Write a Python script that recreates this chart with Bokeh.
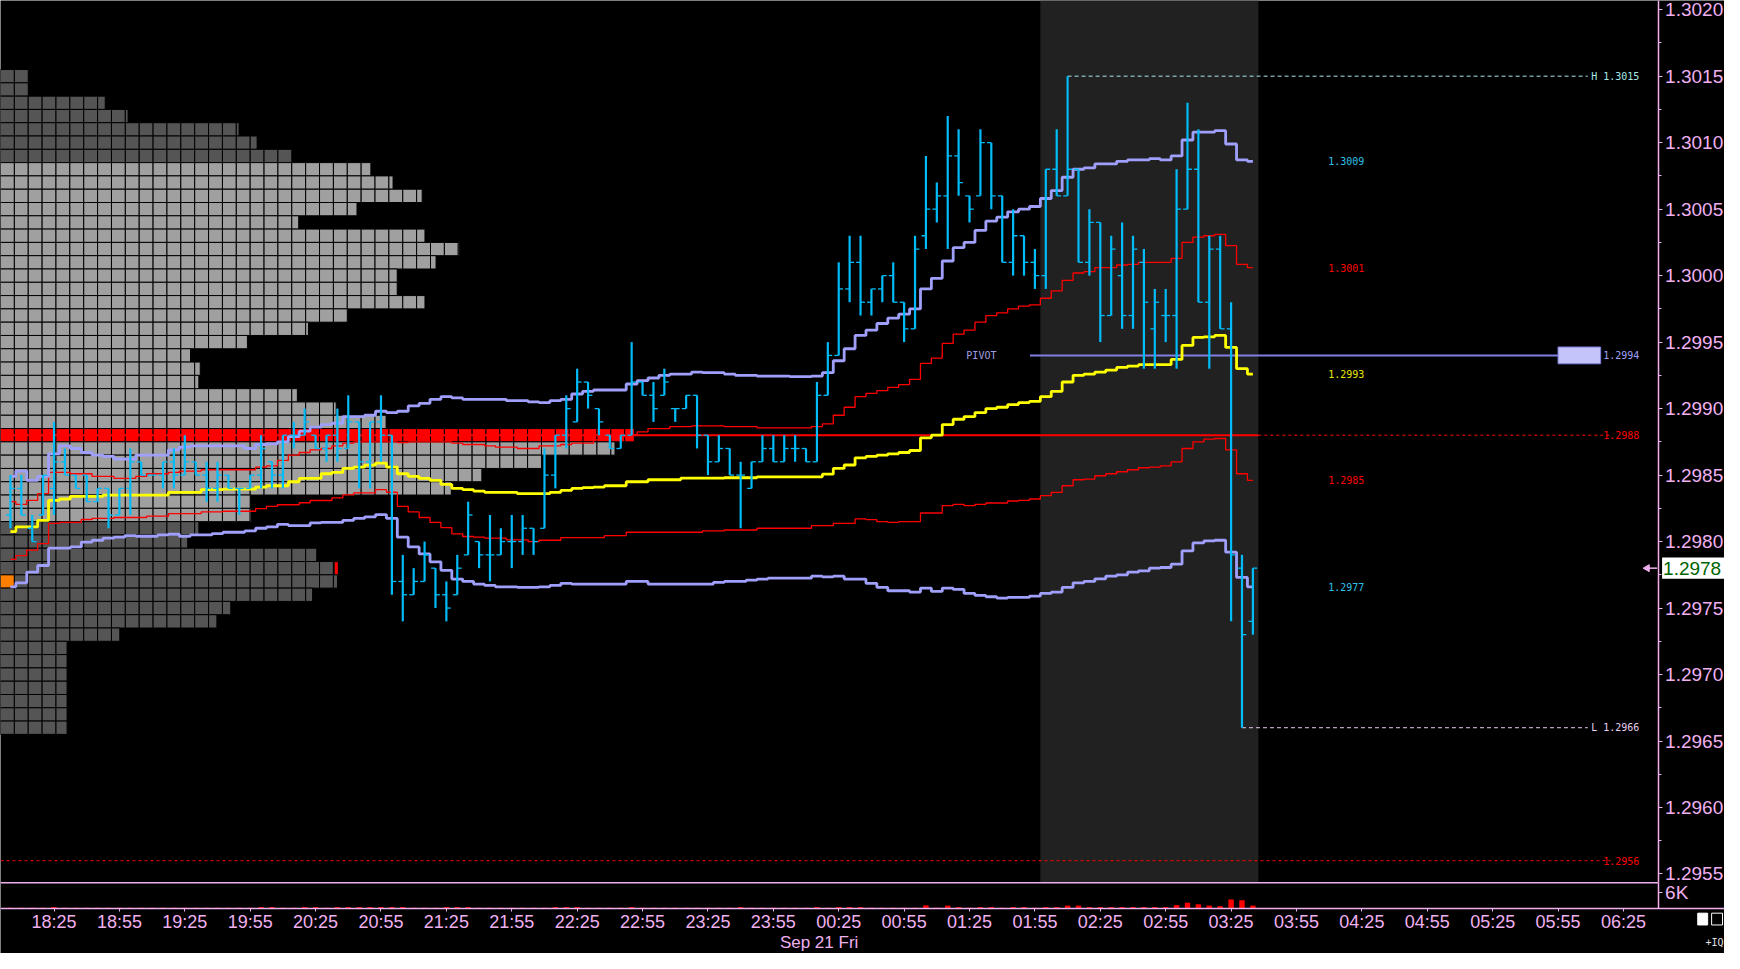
from math import pi
from bokeh.plotting import figure
from bokeh.models import (Range1d, LinearAxis, FixedTicker, SingleIntervalTicker,
                          PrintfTickFormatter, BoxAnnotation)
from bokeh.core.properties import value
from bokeh.embed import file_html
from bokeh.resources import INLINE

# prices are kept in pips above BASE
BASE = 1.29
PIP = 0.0001

# 5 minute bars, x is minutes after 18:00 (Sep 20)
FIRST_BAR = 5
BAR_MINUTES = 5

OPEN = [82, 84, 81, 82, 84, 86, 85, 85, 83, 84, 82, 84, 86, 85, 85, 86, 85, 86, 85, 84,
        85, 84, 84, 85, 86, 85, 88, 88, 88, 87, 88, 87, 89, 86, 89, 88, 77, 76, 77, 78,
        76, 76, 79, 80, 79, 79, 80, 80, 81, 81, 85, 88, 89, 92, 90, 88, 87, 88, 92, 91,
        91, 90, 90, 91, 88, 86, 87, 85, 84, 86, 87, 86, 87, 87, 86, 91, 94, 99, 101, 98,
        99, 100, 98, 96, 103, 105, 106, 109, 106, 106, 110, 106, 101, 103, 101, 100, 108, 106, 108, 101,
        104, 97, 100, 97, 101, 96, 97, 97, 105, 108, 98, 102, 96, 78, 74]
HIGH = [85, 85, 82, 85, 89, 87, 85, 85, 84, 84, 84, 87, 86, 85, 86, 87, 88, 86, 86, 86,
        85, 84, 85, 88, 86, 88, 89, 90, 88, 88, 90, 91, 89, 89, 91, 88, 79, 78, 80, 78,
        77, 79, 83, 80, 82, 81, 82, 82, 81, 87, 88, 91, 93, 92, 90, 88, 88, 95, 92, 92,
        93, 90, 91, 91, 88, 88, 87, 86, 86, 88, 88, 88, 88, 87, 92, 95, 101, 103, 103, 99,
        100, 101, 98, 103, 109, 107, 112, 111, 106, 111, 110, 106, 105, 103, 102, 108, 111, 115, 108, 105,
        104, 103, 104, 103, 102, 99, 99, 108, 113, 111, 103, 103, 98, 79, 78]
LOW = [81, 82, 80, 82, 82, 85, 84, 83, 83, 81, 82, 82, 85, 85, 84, 84, 85, 85, 83, 83,
       84, 82, 84, 84, 84, 84, 87, 88, 87, 86, 86, 87, 84, 84, 86, 76, 74, 76, 77, 75,
       74, 76, 79, 78, 77, 79, 78, 79, 79, 81, 84, 87, 89, 90, 88, 87, 87, 88, 91, 89,
       91, 89, 90, 87, 85, 86, 85, 81, 84, 86, 86, 86, 86, 86, 86, 91, 94, 98, 97, 97,
       98, 98, 95, 96, 102, 104, 102, 106, 104, 106, 105, 101, 100, 100, 99, 99, 106, 106, 101, 100,
       95, 97, 96, 96, 93, 93, 95, 93, 105, 98, 93, 96, 74, 66, 73]
CLOSE = [84, 82, 80, 85, 86, 85, 84, 83, 84, 82, 84, 86, 85, 85, 86, 85, 86, 85, 84, 85,
         84, 84, 85, 87, 85, 88, 88, 89, 87, 88, 87, 89, 86, 89, 88, 77, 76, 77, 79, 76,
         75, 78, 82, 79, 79, 80, 80, 81, 80, 85, 88, 90, 92, 91, 89, 87, 88, 92, 91, 90,
         92, 90, 91, 88, 86, 87, 85, 85, 86, 87, 86, 87, 87, 86, 91, 94, 99, 101, 98, 99,
         100, 98, 96, 102, 105, 106, 109, 107, 105, 110, 106, 101, 103, 101, 100, 108, 106, 108, 101, 104,
         97, 102, 97, 102, 98, 98, 97, 105, 108, 98, 102, 96, 79, 73, 78]
VOLUME_K = [0.2, 0.2, 0.2, 0.2, 0.45, 0.2, 0.2, 0.2, 0.2, 0.2, 0.2, 0.2, 0.2, 0.2, 0.2, 0.2, 0.2, 0.2, 0.2, 0.2,
            0.2, 0.2, 0.2, 0.45, 0.45, 0.2, 0.2, 0.45, 0.45, 0.2, 0.45, 0.45, 0.45, 0.45, 0.45, 0.45, 0.45, 0.2, 0.2, 0.2,
            0.45, 0.45, 0.45, 0.2, 0.2, 0.2, 0.2, 0.2, 0.2, 0.2, 0.45, 0.45, 0.45, 0.2, 0.2, 0.2, 0.2, 0.45, 0.2, 0.2,
            0.2, 0.2, 0.2, 0.2, 0.2, 0.2, 0.2, 0.45, 0.2, 0.2, 0.2, 0.2, 0.2, 0.2, 0.45, 0.2, 0.45, 0.45, 0.45, 0.2,
            0.2, 0.2, 0.2, 0.2, 1.1, 0.2, 1.0, 0.45, 0.2, 0.45, 0.45, 0.2, 0.45, 0.45, 0.2, 0.45, 0.45, 1.0, 1.0, 0.45,
            0.45, 0.45, 0.45, 0.45, 0.45, 0.45, 0.45, 1.2, 2.1, 1.5, 1.0, 0.8, 3.3, 3.0, 1.0]

# session vwap and its two deviation bands
VWAP = [80.75, 81.1, 81.1, 81.6, 83.1, 83.2, 83.4, 83.4, 83.4, 83.5, 83.5, 83.5, 83.5, 83.5, 83.5, 83.7, 83.7, 83.7, 83.9, 83.9,
        83.95, 83.95, 83.95, 84.1, 84.2, 84.2, 84.5, 84.75, 84.75, 85.1, 85.2, 85.5, 85.6, 85.75, 85.9, 85.6, 85.1, 84.9, 84.75, 84.6,
        84.3, 84.0, 83.9, 83.8, 83.7, 83.7, 83.7, 83.6, 83.6, 83.6, 83.7, 83.85, 84.0, 84.05, 84.1, 84.2, 84.2, 84.5, 84.5, 84.65,
        84.65, 84.65, 84.77, 84.77, 84.77, 84.77, 84.8, 84.8, 84.8, 84.87, 84.87, 84.87, 84.87, 84.87, 84.87, 85.07, 85.5, 85.76, 86.3, 86.4,
        86.5, 86.6, 86.7, 86.85, 87.8, 88.0, 88.8, 89.2, 89.4, 89.7, 90.0, 90.1, 90.3, 90.45, 90.55, 90.9, 91.3, 92.0, 92.5, 92.6,
        92.75, 92.9, 93.1, 93.2, 93.3, 93.3, 93.3, 93.7, 94.75, 95.35, 95.4, 95.5, 94.6, 93.0, 92.6]
BAND1_UP = [83.0, 82.8, 83.1, 83.6, 85.2, 85.2, 85.1, 85.1, 84.9, 84.9, 84.75, 84.75, 84.9, 85.1, 85.1, 85.2, 85.3, 85.3, 85.4, 85.4,
            85.4, 85.4, 85.4, 85.6, 85.7, 86.1, 86.5, 86.7, 86.9, 87.0, 87.2, 87.4, 87.5, 87.5, 87.5, 87.5, 87.45, 87.5, 87.5, 87.5,
            87.5, 87.4, 87.3, 87.3, 87.2, 87.1, 87.1, 87.0, 87.0, 87.2, 87.2, 87.3, 87.4, 87.4, 87.65, 87.9, 87.9, 88.0, 88.25, 88.5,
            88.5, 88.65, 88.65, 88.7, 88.7, 88.7, 88.65, 88.65, 88.65, 88.55, 88.55, 88.55, 88.55, 88.55, 88.65, 88.85, 89.5, 90.1, 90.9, 91.15,
            91.35, 91.6, 91.8, 92.2, 93.4, 93.8, 94.9, 95.6, 95.9, 96.5, 97.0, 97.2, 97.5, 97.7, 97.8, 98.3, 98.85, 99.65, 100.2, 100.3,
            100.6, 100.6, 100.8, 100.85, 101.0, 101.0, 101.0, 101.3, 102.5, 102.9, 103.0, 103.1, 102.25, 100.85, 100.6]
BAND1_DN = [78.66, 78.95, 79.35, 79.84, 81.37, 81.44, 81.44, 81.66, 81.74, 81.74, 81.81, 81.81, 81.81, 81.91, 81.91, 82.1, 82.1, 82.1, 82.23, 82.23,
            82.28, 82.28, 82.28, 82.48, 82.65, 82.77, 82.77, 82.92, 83.09, 83.09, 83.29, 83.51, 83.66, 83.66, 83.9, 83.71, 82.65, 82.23, 81.81, 81.44,
            81.05, 80.58, 80.38, 80.33, 80.26, 80.26, 80.13, 80.13, 80.0, 80.1, 80.1, 80.3, 80.3, 80.3, 80.3, 80.45, 80.45, 80.7, 80.7, 80.7,
            80.7, 80.7, 80.7, 80.7, 80.8, 80.8, 80.87, 80.87, 80.87, 81.0, 81.0, 81.0, 81.0, 81.0, 81.2, 81.2, 81.37, 81.37, 81.7, 81.65,
            81.5, 81.45, 81.5, 81.5, 82.15, 82.15, 82.7, 82.8, 82.7, 82.8, 82.9, 82.9, 83.05, 83.1, 83.2, 83.45, 83.7, 84.2, 84.65, 84.7,
            84.95, 85.1, 85.25, 85.4, 85.55, 85.6, 85.7, 86.0, 87.0, 87.5, 87.7, 87.75, 86.9, 85.1, 84.6]
BAND2_UP = [84.9, 85.3, 84.6, 84.9, 86.6, 87.2, 87.0, 86.7, 86.5, 86.4, 86.2, 86.2, 86.5, 86.5, 86.5, 86.9, 87.1, 87.2, 87.2, 87.2,
            87.2, 87.2, 87.0, 87.3, 87.35, 87.5, 87.9, 88.3, 88.6, 88.8, 88.9, 89.4, 89.4, 89.5, 89.8, 89.7, 89.8, 90.2, 90.4, 90.7,
            90.9, 90.8, 90.7, 90.7, 90.7, 90.7, 90.6, 90.6, 90.5, 90.45, 90.6, 90.7, 91.1, 91.3, 91.4, 91.4, 91.4, 91.85, 92.1, 92.3,
            92.5, 92.6, 92.6, 92.75, 92.7, 92.7, 92.6, 92.5, 92.5, 92.45, 92.45, 92.45, 92.4, 92.4, 92.45, 92.7, 93.6, 94.5, 95.5, 95.9,
            96.4, 96.8, 97.1, 97.5, 99.0, 99.8, 101.1, 102.1, 102.5, 103.4, 104.1, 104.4, 104.8, 105.0, 105.2, 105.8, 106.4, 107.4, 108.0, 108.1,
            108.4, 108.4, 108.6, 108.7, 108.7, 108.8, 108.7, 109.0, 110.2, 110.8, 110.8, 110.9, 109.9, 108.7, 108.6]
BAND2_DN = [76.6, 76.9, 77.7, 78.2, 79.5, 79.5, 79.6, 79.96, 80.1, 80.26, 80.33, 80.45, 80.4, 80.4, 80.5, 80.55, 80.4, 80.5, 80.5, 80.6,
            80.7, 80.7, 80.8, 81.0, 81.1, 81.3, 81.2, 81.2, 81.4, 81.44, 81.44, 81.6, 81.74, 81.86, 82.03, 81.74, 80.33, 79.6, 79.07, 78.48,
            77.84, 77.18, 77.0, 76.8, 76.7, 76.6, 76.6, 76.56, 76.56, 76.6, 76.7, 76.86, 76.8, 76.8, 76.8, 76.8, 76.8, 77.0, 77.0, 76.8,
            76.8, 76.8, 76.8, 76.8, 76.8, 76.93, 77.0, 77.0, 77.1, 77.18, 77.25, 77.25, 77.25, 77.25, 77.4, 77.35, 77.4, 77.18, 77.18, 76.86,
            76.56, 76.3, 76.3, 76.2, 76.5, 76.25, 76.5, 76.4, 76.1, 75.95, 75.85, 75.75, 75.8, 75.8, 75.9, 76.1, 76.2, 76.55, 76.9, 77.0,
            77.2, 77.4, 77.5, 77.7, 77.8, 78.0, 78.05, 78.3, 79.3, 79.9, 80.05, 80.1, 79.2, 77.3, 76.6]

# volume profile: cells per price row, from PROFILE_TOP downwards
PROFILE_TOP = 115
PROFILE_CELLS = [2, 2, 7.55, 9.2, 17.2, 18.5, 21.0, 26.7, 28.3, 30.4, 25.7, 21.5, 30.6, 33.1, 31.4, 28.6, 28.6,
                 30.6, 25.0, 22.2, 17.8, 13.7, 14.4, 14.3, 21.4, 24.2, 27.8, 45.7, 44.3, 39.0, 34.7, 32.5, 18.0,
                 18.1, 14.3, 13.5, 22.8, 24.1, 24.3, 22.5, 16.6, 15.6, 8.6, 4.8, 4.8, 4.8, 4.8, 4.8, 4.8, 4.8]
VALUE_AREA = (82, 108)
POC = 88
PROFILE_OPEN = 77

PIVOT = 1.2994
SUPPORT = 1.2956
SESSION_BARS = (95, 114)

TIME_LABELS = ["18:25", "18:55", "19:25", "19:55", "20:25", "20:55", "21:25", "21:55", "22:25",
               "22:55", "23:25", "23:55", "00:25", "00:55", "01:25", "01:55", "02:25", "02:55",
               "03:25", "03:55", "04:25", "04:55", "05:25", "05:55", "06:25"]
FIRST_TICK = 25
DATE_LABEL = "Sep 21 Fri"
DATE_AT = 376
VOLUME_TICK = 6

PINK = "#f0b0f0"
CYAN = "#00bcf8"
LAV = "#a0a0fc"
YELLOW = "#ffff00"
RED = "#ff0000"
LIGHT = "#a0a0a0"
DARK = "#555555"
AXIS_FONT = "Liberation Sans"
SMALL_FONT = "DejaVu Sans Mono"

# screen layout of the original, in its pixels
X_START = 0.45          # minutes at the left edge
PX_PER_MIN = 2.2
PX_PER_PIP = 13.52
PRICE_TOP = 1.3020692   # price at the top edge
PX_PER_K = 2.7
CELL = 14 / PX_PER_MIN
TEXT_RIGHT = 752.3


def px(v):
    return BASE + v * PIP


def ref_x(col):
    return X_START + col / PX_PER_MIN


def ref_y(row):
    return PRICE_TOP - row * PIP / PX_PER_PIP


def style_axis(axis, size="19px"):
    axis.axis_line_color = PINK
    axis.axis_line_width = 1.5
    axis.major_tick_line_color = PINK
    axis.minor_tick_line_color = PINK
    axis.major_tick_in = 0
    axis.minor_tick_in = 0
    axis.major_tick_out = 4
    axis.minor_tick_out = 3
    axis.major_label_text_color = PINK
    axis.major_label_text_font = AXIS_FONT
    axis.major_label_text_font_size = size
    axis.major_label_standoff = 3


bars_x = [FIRST_BAR + BAR_MINUTES * i for i in range(len(CLOSE))]
axis_x = ref_x(1673)
pane_bottom = ref_y(897)
half = BAR_MINUTES / 2

p = figure(width=1724, height=953, x_range=Range1d(ref_x(0), ref_x(1740)),
           y_range=Range1d(ref_y(969), ref_y(0)), x_axis_type=None, y_axis_type=None,
           toolbar_location=None, output_backend="svg", min_border=0,
           background_fill_color="black", border_fill_color="black", outline_line_color=None)
p.extra_y_ranges = {"vol": Range1d(-(969 - 923) / PX_PER_K, 923 / PX_PER_K)}

yaxis = LinearAxis(ticker=SingleIntervalTicker(interval=0.0005, num_minor_ticks=2),
                   formatter=PrintfTickFormatter(format="%.4f"),
                   fixed_location=axis_x, bounds=(pane_bottom, ref_y(0)))
style_axis(yaxis)
p.add_layout(yaxis, "right")

vaxis = LinearAxis(y_range_name="vol", ticker=FixedTicker(ticks=[VOLUME_TICK]),
                   major_label_overrides={VOLUME_TICK: f"{VOLUME_TICK}K"},
                   fixed_location=axis_x, bounds=(0, (923 - 897) / PX_PER_K))
style_axis(vaxis)
p.add_layout(vaxis, "right")

time_ticks = [FIRST_TICK + 30 * k for k in range(len(TIME_LABELS))]
taxis = LinearAxis(ticker=FixedTicker(ticks=time_ticks),
                   major_label_overrides=dict(zip(time_ticks, TIME_LABELS)),
                   fixed_location=ref_y(923))
style_axis(taxis, "18px")
taxis.major_tick_out = 3
taxis.major_label_standoff = 1
p.add_layout(taxis, "below")

p.segment(x0=[ref_x(0)], y0=[pane_bottom], x1=[axis_x], y1=[pane_bottom], line_color=PINK, line_width=1.5)
p.text(x=[DATE_AT], y=[ref_y(958)], text=[DATE_LABEL], text_color=PINK, text_align="center",
       text_baseline="middle", text_font=value(AXIS_FONT), text_font_size="17px")

# highlighted session
p.add_layout(BoxAnnotation(left=bars_x[SESSION_BARS[0]] - half, right=bars_x[SESSION_BARS[1]] + half,
                           bottom=pane_bottom, fill_color="#212121", fill_alpha=1,
                           line_color=None, level="underlay"))

# profile cells
cx, cy, cw, cc = [], [], [], []
row_end = {}
for row, cells in enumerate(PROFILE_CELLS):
    tick = PROFILE_TOP - row
    if tick == POC:
        colour = RED
    elif VALUE_AREA[0] <= tick <= VALUE_AREA[1]:
        colour = LIGHT
    else:
        colour = DARK
    whole = int(cells)
    widths = [1.0] * whole
    if cells - whole > 0.05:
        widths.append(cells - whole)
    left = X_START
    for k, w in enumerate(widths):
        cx.append(left + w * CELL / 2)
        cw.append(w * CELL)
        cy.append(px(tick))
        cc.append("#ff8000" if (tick == PROFILE_OPEN and k == 0) else colour)
        left += w * CELL
    row_end[tick] = left
p.rect(x=cx, y=cy, width=cw, height=PIP, fill_color=cc, line_color="black", line_width=1)
mark_left = row_end[CLOSE[-1]]
p.quad(left=[mark_left], right=[mark_left + 1.4], bottom=[px(CLOSE[-1] - 0.45)],
       top=[px(CLOSE[-1] + 0.45)], fill_color=RED, line_color=None)

# horizontal levels
hi_i = HIGH.index(max(HIGH))
lo_i = LOW.index(min(LOW))
line_end = ref_x(1602)
dash_end = ref_x(1625)
p.segment(x0=[bars_x[hi_i]], y0=[px(HIGH[hi_i])], x1=[line_end], y1=[px(HIGH[hi_i])],
          line_color="#a8e8e8", line_width=1, line_dash="4 3")
p.segment(x0=[bars_x[lo_i]], y0=[px(LOW[lo_i])], x1=[line_end], y1=[px(LOW[lo_i])],
          line_color="#e8c8f0", line_width=1, line_dash="4 3")
p.segment(x0=[X_START], y0=[px(POC)], x1=[bars_x[-1] + half], y1=[px(POC)],
          line_color=RED, line_width=2)
p.segment(x0=[bars_x[-1] + half], y0=[px(POC)], x1=[dash_end], y1=[px(POC)],
          line_color=RED, line_width=1, line_dash="3 3")
p.segment(x0=[X_START], y0=[SUPPORT], x1=[dash_end], y1=[SUPPORT],
          line_color=RED, line_width=1, line_dash="3 3")
p.segment(x0=[ref_x(1039)], y0=[PIVOT], x1=[ref_x(1572)], y1=[PIVOT], line_color="#8080e0", line_width=2)
p.quad(left=[ref_x(1572)], right=[ref_x(1615)], bottom=[PIVOT - 0.63 * PIP], top=[PIVOT + 0.63 * PIP],
       fill_color="#c4c4fa", line_color="#8080e0", line_width=1)

small = dict(text_font=value(SMALL_FONT), text_font_size="10px", text_baseline="middle")
p.text(x=[TEXT_RIGHT], y=[px(HIGH[hi_i])], text=[f"H {px(HIGH[hi_i]):.4f}"],
       text_color="#a8e8e8", text_align="right", **small)
p.text(x=[TEXT_RIGHT], y=[px(LOW[lo_i])], text=[f"L {px(LOW[lo_i]):.4f}"],
       text_color="#e8d0f0", text_align="right", **small)
p.text(x=[TEXT_RIGHT], y=[PIVOT], text=[f"{PIVOT:.4f}"], text_color=LAV, text_align="right", **small)
p.text(x=[TEXT_RIGHT], y=[px(POC)], text=[f"{px(POC):.4f}"], text_color=RED, text_align="right", **small)
p.text(x=[TEXT_RIGHT], y=[SUPPORT], text=[f"{SUPPORT:.4f}"], text_color=RED, text_align="right", **small)
p.text(x=[ref_x(990)], y=[PIVOT], text=["PIVOT"], text_color="#a0a0e0", text_align="center", **small)

# vwap bands
bands = [(BAND1_UP, RED, 1.3), (BAND1_DN, RED, 1.3), (BAND2_UP, LAV, 2.8),
         (BAND2_DN, LAV, 2.8), (VWAP, YELLOW, 2.8)]
for values, colour, width in bands:
    p.step(x=bars_x, y=[px(v) for v in values], mode="center", line_color=colour, line_width=width)
label_colours = [("#30c0e8", BAND2_UP), (RED, BAND1_UP), ("#e8e800", VWAP), (RED, BAND1_DN), ("#30c0e8", BAND2_DN)]
for colour, values in label_colours:
    p.text(x=[ref_x(1340)], y=[px(values[-1])], text=[f"{px(values[-1]):.4f}"], text_color=colour,
           text_align="left", **small)

# ohlc bars
tick_w = 2.0
p.segment(x0=bars_x, y0=[px(v) for v in LOW], x1=bars_x, y1=[px(v) for v in HIGH],
          line_color=CYAN, line_width=2.2)
p.segment(x0=[x - tick_w for x in bars_x], y0=[px(v) for v in OPEN], x1=bars_x,
          y1=[px(v) for v in OPEN], line_color=CYAN, line_width=1.3)
p.segment(x0=bars_x, y0=[px(v) for v in CLOSE], x1=[x + tick_w for x in bars_x],
          y1=[px(v) for v in CLOSE], line_color=CYAN, line_width=1.3)

# volume
p.vbar(x=bars_x, top=VOLUME_K, bottom=0, width=2.5, fill_color=RED, line_color=None, y_range_name="vol")

# last price marker on the axis
last = px(CLOSE[-1])
p.segment(x0=[ref_x(1660)], y0=[last], x1=[ref_x(1672)], y1=[last], line_color=PINK, line_width=1.5)
p.scatter(x=[ref_x(1662)], y=[last], marker="triangle", size=7, angle=pi / 2, color=PINK)
p.quad(left=[ref_x(1677)], right=[ref_x(1741)], bottom=[last - 0.8 * PIP], top=[last + 0.8 * PIP],
       fill_color="white", line_color=None)
p.text(x=[ref_x(1678)], y=[last], text=[f"{last:.4f}"], text_color="#006400", text_align="left",
       text_baseline="middle", text_font=value(AXIS_FONT), text_font_size="19px")

# corner marks
p.quad(left=[ref_x(1713)], right=[ref_x(1723)], bottom=[ref_y(940)], top=[ref_y(928)],
       fill_color="white", line_color="white")
p.quad(left=[ref_x(1727)], right=[ref_x(1738)], bottom=[ref_y(940)], top=[ref_y(928)],
       fill_color=None, line_color="white", line_width=1)
p.text(x=[ref_x(1739)], y=[ref_y(958)], text=["+IQ"], text_color="#e0e0e0", text_align="right",
       text_baseline="middle", text_font=value(SMALL_FONT), text_font_size="10px")

open("out.html", "w").write(file_html(p, INLINE))
